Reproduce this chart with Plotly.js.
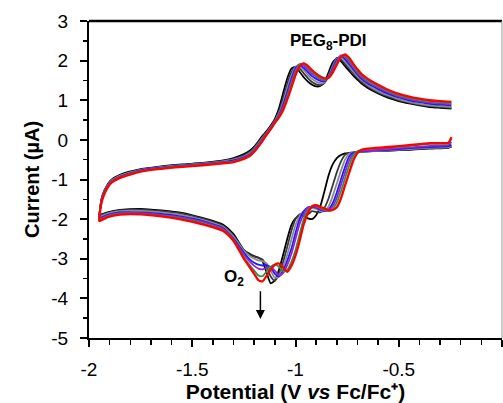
<!DOCTYPE html>
<html>
<head>
<meta charset="utf-8">
<script src="https://cdn.plot.ly/plotly-3.0.1.min.js"></script>
<style>html,body{margin:0;padding:0;background:#fff;}#chart{width:503px;height:403px;}</style>
</head>
<body>
<div id="chart"></div>
<script>
// Potential grid (V vs Fc/Fc+) for the cathodic (lower) and anodic (upper) branches
const bottomX = [-0.245,-0.26,-0.35,-0.45,-0.55,-0.65,-0.68,-0.70,-0.72,-0.74,-0.76,-0.78,-0.80,-0.82,-0.84,-0.86,-0.88,-0.90,-0.92,-0.94,-0.96,-0.98,-1.00,-1.02,-1.04,-1.06,-1.08,-1.10,-1.12,-1.14,-1.16,-1.18,-1.20,-1.22,-1.25,-1.30,-1.35,-1.45,-1.55,-1.65,-1.75,-1.85,-1.91,-1.95];
const topX = [-1.95,-1.94,-1.925,-1.895,-1.85,-1.75,-1.65,-1.55,-1.45,-1.35,-1.30,-1.25,-1.22,-1.20,-1.18,-1.16,-1.14,-1.12,-1.10,-1.08,-1.06,-1.04,-1.02,-1.00,-0.98,-0.96,-0.94,-0.92,-0.90,-0.88,-0.86,-0.84,-0.82,-0.80,-0.78,-0.76,-0.74,-0.72,-0.70,-0.68,-0.65,-0.60,-0.55,-0.50,-0.45,-0.40,-0.35,-0.30,-0.245];

// Current (µA), cycle 1 (black)
const blackBottom = [-0.18,-0.2,-0.22,-0.25,-0.27,-0.29,-0.3,-0.31,-0.32,-0.33,-0.34,-0.38,-0.46,-0.62,-0.9,-1.3,-1.68,-1.9,-2.0,-1.98,-1.92,-1.92,-1.98,-2.15,-2.5,-2.9,-3.28,-3.55,-3.62,-3.35,-3.06,-2.97,-2.93,-2.88,-2.78,-2.38,-2.14,-1.97,-1.84,-1.78,-1.74,-1.77,-1.83,-1.9];
const blackTop = [-1.9,-1.5,-1.27,-1.02,-0.88,-0.74,-0.67,-0.62,-0.58,-0.52,-0.46,-0.36,-0.27,-0.17,-0.04,0.1,0.22,0.36,0.53,0.8,1.18,1.55,1.8,1.84,1.72,1.58,1.47,1.39,1.35,1.36,1.45,1.7,1.95,2.05,1.98,1.86,1.74,1.62,1.52,1.42,1.31,1.17,1.06,0.98,0.92,0.87,0.83,0.81,0.79];

// cycle 2 (dark grey)
const dgreyBottom = [-0.17,-0.19,-0.21,-0.24,-0.27,-0.29,-0.3,-0.31,-0.32,-0.33,-0.38,-0.55,-0.82,-1.15,-1.48,-1.72,-1.83,-1.82,-1.8,-1.88,-1.86,-1.88,-2.0,-2.3,-2.7,-3.08,-3.38,-3.56,-3.45,-3.2,-3.02,-2.98,-2.95,-2.9,-2.78,-2.42,-2.17,-1.99,-1.86,-1.8,-1.76,-1.78,-1.84,-1.92];
const dgreyTop = [-1.94,-1.52,-1.29,-1.04,-0.9,-0.75,-0.68,-0.63,-0.59,-0.53,-0.48,-0.39,-0.3,-0.2,-0.07,0.07,0.2,0.34,0.5,0.72,1.05,1.42,1.7,1.85,1.8,1.68,1.56,1.46,1.4,1.38,1.43,1.63,1.88,2.07,2.03,1.92,1.8,1.67,1.56,1.46,1.35,1.2,1.09,1.0,0.94,0.89,0.85,0.83,0.81];

// cycle 3 (grey)
const greyBottom = [-0.15,-0.18,-0.2,-0.23,-0.26,-0.29,-0.3,-0.31,-0.32,-0.35,-0.5,-0.78,-1.1,-1.42,-1.68,-1.8,-1.79,-1.74,-1.72,-1.76,-1.8,-1.92,-2.15,-2.52,-2.9,-3.2,-3.44,-3.48,-3.3,-3.12,-3.06,-3.04,-3.0,-2.94,-2.8,-2.45,-2.2,-2.02,-1.9,-1.83,-1.79,-1.8,-1.86,-1.95];
const greyTop = [-1.95,-1.53,-1.3,-1.05,-0.91,-0.76,-0.69,-0.64,-0.6,-0.54,-0.5,-0.42,-0.33,-0.23,-0.1,0.04,0.18,0.32,0.47,0.66,0.95,1.3,1.62,1.84,1.86,1.76,1.64,1.54,1.47,1.43,1.45,1.6,1.84,2.05,2.08,1.98,1.85,1.72,1.6,1.5,1.38,1.23,1.12,1.03,0.96,0.91,0.87,0.85,0.83];

// cycle 4 (blue)
const blueBottom = [-0.12,-0.16,-0.18,-0.21,-0.25,-0.28,-0.29,-0.3,-0.32,-0.42,-0.68,-1.0,-1.33,-1.6,-1.76,-1.8,-1.76,-1.71,-1.69,-1.7,-1.8,-2.0,-2.35,-2.75,-3.05,-3.3,-3.45,-3.38,-3.22,-3.16,-3.17,-3.15,-3.1,-3.02,-2.85,-2.5,-2.23,-2.05,-1.94,-1.87,-1.83,-1.83,-1.89,-1.98];
const blueTop = [-1.97,-1.55,-1.32,-1.07,-0.93,-0.77,-0.7,-0.65,-0.61,-0.56,-0.52,-0.44,-0.36,-0.26,-0.13,0.01,0.16,0.3,0.45,0.62,0.88,1.2,1.54,1.81,1.9,1.82,1.71,1.61,1.54,1.49,1.48,1.58,1.8,2.02,2.12,2.04,1.91,1.78,1.65,1.54,1.42,1.28,1.16,1.07,1.0,0.95,0.91,0.89,0.87];

// cycle 5 (purple)
const purpleBottom = [-0.05,-0.13,-0.15,-0.19,-0.23,-0.27,-0.28,-0.3,-0.35,-0.52,-0.82,-1.14,-1.46,-1.68,-1.78,-1.79,-1.74,-1.69,-1.68,-1.72,-1.88,-2.12,-2.5,-2.88,-3.16,-3.36,-3.42,-3.3,-3.22,-3.23,-3.27,-3.25,-3.18,-3.08,-2.9,-2.52,-2.25,-2.07,-1.96,-1.89,-1.85,-1.85,-1.91,-2.0];
const purpleTop = [-1.99,-1.57,-1.33,-1.08,-0.94,-0.78,-0.71,-0.66,-0.62,-0.57,-0.54,-0.46,-0.38,-0.28,-0.15,-0.01,0.15,0.29,0.44,0.6,0.82,1.13,1.47,1.76,1.91,1.88,1.77,1.67,1.59,1.53,1.5,1.57,1.76,1.98,2.13,2.09,1.97,1.83,1.69,1.58,1.46,1.32,1.2,1.1,1.03,0.98,0.94,0.92,0.9];

// cycle 6 (green)
const greenBottom = [0.03,-0.09,-0.1,-0.15,-0.19,-0.23,-0.25,-0.29,-0.4,-0.65,-0.97,-1.3,-1.58,-1.75,-1.79,-1.76,-1.71,-1.67,-1.68,-1.78,-2.0,-2.38,-2.78,-3.08,-3.28,-3.32,-3.2,-3.15,-3.2,-3.32,-3.44,-3.42,-3.3,-3.17,-2.96,-2.54,-2.28,-2.11,-1.99,-1.92,-1.87,-1.87,-1.93,-2.02];
const greenTop = [-2.0,-1.58,-1.34,-1.09,-0.95,-0.79,-0.72,-0.67,-0.63,-0.58,-0.55,-0.47,-0.39,-0.29,-0.16,-0.02,0.14,0.28,0.43,0.58,0.78,1.08,1.4,1.7,1.89,1.93,1.83,1.72,1.63,1.56,1.52,1.56,1.72,1.94,2.11,2.13,2.02,1.87,1.73,1.62,1.5,1.36,1.23,1.13,1.06,1.01,0.97,0.95,0.93];

// cycle 7 (red)
const redBottom = [0.07,-0.07,-0.08,-0.13,-0.18,-0.22,-0.25,-0.33,-0.52,-0.83,-1.15,-1.48,-1.7,-1.77,-1.78,-1.73,-1.69,-1.65,-1.68,-1.85,-2.13,-2.55,-2.92,-3.18,-3.33,-3.22,-3.12,-3.15,-3.27,-3.43,-3.57,-3.54,-3.38,-3.23,-3.0,-2.55,-2.3,-2.13,-2.01,-1.93,-1.88,-1.885,-1.95,-2.05];
const redTop = [-2.02,-1.6,-1.36,-1.1,-0.96,-0.8,-0.73,-0.68,-0.64,-0.59,-0.56,-0.48,-0.4,-0.3,-0.17,-0.03,0.13,0.27,0.43,0.57,0.75,1.02,1.32,1.63,1.85,1.93,1.87,1.76,1.67,1.6,1.55,1.57,1.7,1.9,2.09,2.16,2.07,1.92,1.78,1.66,1.54,1.39,1.26,1.16,1.09,1.04,1.0,0.98,0.96];

const seriesNames = ['cycle 1','cycle 2','cycle 3','cycle 4','cycle 5','cycle 6','cycle 7'];
const seriesColors = ['#000000','#3a3a3a','#8a8a8a','#1a1aff','#a020d0','#1f9a45','#ff0000'];
const seriesBottom = [blackBottom,dgreyBottom,greyBottom,blueBottom,purpleBottom,greenBottom,redBottom];
const seriesTop = [blackTop,dgreyTop,greyTop,blueTop,purpleTop,greenTop,redTop];

const xTickVals = [-2,-1.5,-1,-0.5,0];
const xTickText = ['-2','-1.5','-1','-0.5','0'];
const yTickVals = [-5,-4,-3,-2,-1,0,1,2,3];
const yTickText = ['-5','-4','-3','-2','-1','0','1','2','3'];

const traces = seriesNames.map((n,i)=>({
  type:'scatter', mode:'lines', name:n, showlegend:false,
  x: bottomX.concat(topX),
  y: seriesBottom[i].concat(seriesTop[i]),
  line:{color:seriesColors[i], width: i===6 ? 2.3 : 1.8, shape:'spline', smoothing:0.6},
  hoverinfo:'skip'
}));

const FONT = 'Arial, "Liberation Sans", sans-serif';
const layout = {
  width:503, height:403,
  margin:{l:89, r:1, t:21, b:65},
  paper_bgcolor:'#fff', plot_bgcolor:'#fff',
  showlegend:false,
  font:{family:FONT, color:'#000', size:19},
  xaxis:{
    range:[-2,0], tickmode:'array', tickvals:xTickVals, ticktext:xTickText,
    ticks:'outside', ticklen:7, tickwidth:2, tickcolor:'#000',
    ticklabelstandoff:6,
    minor:{dtick:0.1, ticks:'outside', ticklen:5, tickwidth:1.5, tickcolor:'#000', showgrid:false},
    showline:true, linecolor:'#000', linewidth:2, mirror:false,
    showgrid:false, zeroline:false,
    tickfont:{family:FONT, size:19, color:'#000'},
    title:{text:'<b>Potential (V <i>vs</i> Fc/Fc⁺)</b>', font:{family:FONT, size:21, color:'#000'}, standoff:7}
  },
  yaxis:{
    range:[-5,3], tickmode:'array', tickvals:yTickVals, ticktext:yTickText,
    ticks:'outside', ticklen:7, tickwidth:2, tickcolor:'#000',
    ticklabelstandoff:8,
    minor:{dtick:0.5, ticks:'outside', ticklen:4, tickwidth:1.5, tickcolor:'#000', showgrid:false},
    showline:true, linecolor:'#000', linewidth:2, mirror:false,
    showgrid:false, zeroline:false,
    tickfont:{family:FONT, size:19, color:'#000'},
    title:{text:'<b>Current (µA)</b>', font:{family:FONT, size:20, color:'#000'}, standoff:6}
  },
  shapes:[
    {type:'line', xref:'paper', yref:'paper', x0:0, x1:1, y0:1, y1:1, line:{color:'#000', width:2.5}},
    {type:'line', xref:'paper', yref:'paper', x0:1, x1:1, y0:0, y1:1, line:{color:'#999', width:1}}
  ],
  annotations:[
    {x:-0.84, y:2.46, xref:'x', yref:'y', text:'<b>PEG<sub>8</sub>-PDI</b>', showarrow:false, font:{family:FONT, size:17, color:'#000'}},
    {x:-1.30, y:-3.48, xref:'x', yref:'y', text:'<b>O<sub>2</sub></b>', showarrow:false, font:{family:FONT, size:17, color:'#000'}},
    {x:-1.17, y:-4.52, ax:-1.17, ay:-3.78, xref:'x', yref:'y', axref:'x', ayref:'y', text:'', showarrow:true, arrowhead:2, arrowsize:1.2, arrowwidth:1.5, arrowcolor:'#000'}
  ]
};

Plotly.newPlot('chart', traces, layout, {staticPlot:true, displayModeBar:false});
</script>
</body>
</html>
